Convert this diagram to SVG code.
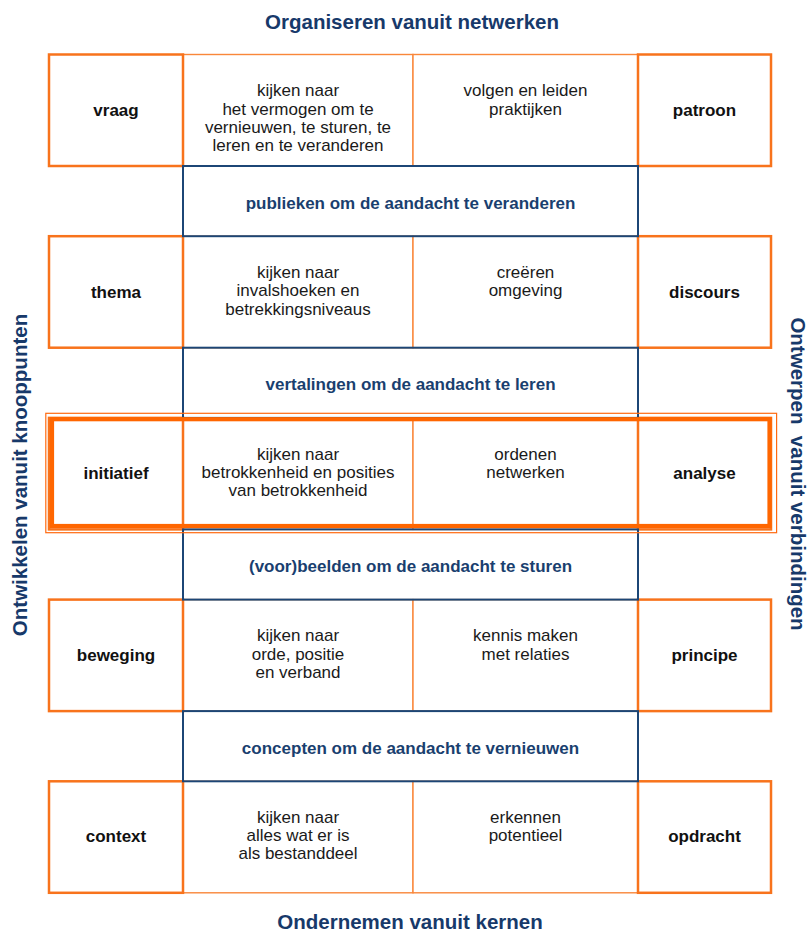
<svg xmlns="http://www.w3.org/2000/svg" width="810" height="933" viewBox="0 0 810 933">
  <style>
    .mid { fill: #ffffff; stroke: #F9873A; stroke-width: 1.4; }
    .side { fill: #ffffff; stroke: #F8731C; stroke-width: 2.5; }
    .band { fill: none; stroke: #1C4676; stroke-width: 2; }
    .lbl { font-family: "Liberation Sans", Arial, sans-serif; font-size: 17px; font-weight: bold; fill: #111111; text-anchor: middle; }
    .txt { font-family: "Liberation Sans", Arial, sans-serif; font-size: 17px; fill: #1a1a1a; text-anchor: middle; }
    .btxt { font-family: "Liberation Sans", Arial, sans-serif; font-size: 17px; font-weight: bold; fill: #1A3F6F; text-anchor: middle; }
    .head { font-family: "Liberation Sans", Arial, sans-serif; font-size: 20.5px; font-weight: bold; fill: #17396A; text-anchor: middle; }
  </style>

  <!-- headings -->
  <g id="heading-top"><text class="head" x="412" y="28.5">Organiseren vanuit netwerken</text></g>
  <g id="heading-bottom"><text class="head" x="410" y="929">Ondernemen vanuit kernen</text></g>
  <g id="heading-left"><text class="head" transform="translate(26.5,475) rotate(-90)" x="0" y="0">Ontwikkelen vanuit knooppunten</text></g>
  <g id="heading-right"><text class="head" transform="translate(790.5,474) rotate(90)" x="0" y="0" xml:space="preserve">Ontwerpen  vanuit verbindingen</text></g>

  <!-- row 1 -->
  <g id="row1-mid-left"><rect class="mid" x="183" y="54.5" width="230" height="111.5"/>
    <text class="txt" x="298" y="96.3">kijken naar</text>
    <text class="txt" x="298" y="114.6">het vermogen om te</text>
    <text class="txt" x="298" y="132.9">vernieuwen, te sturen, te</text>
    <text class="txt" x="298" y="151.2">leren en te veranderen</text></g>
  <g id="row1-mid-right"><rect class="mid" x="413" y="54.5" width="225" height="111.5"/>
    <text class="txt" x="525.5" y="96.3">volgen en leiden</text>
    <text class="txt" x="525.5" y="114.6">praktijken</text></g>
  <g id="vraag"><rect class="side" x="49" y="54.5" width="134" height="111.5"/><text class="lbl" x="116" y="116">vraag</text></g>
  <g id="patroon"><rect class="side" x="638" y="54.5" width="133" height="111.5"/><text class="lbl" x="704.5" y="116">patroon</text></g>

  <!-- row 2 -->
  <g id="row2-mid-left"><rect class="mid" x="183" y="236.2" width="230" height="111.5"/>
    <text class="txt" x="298" y="278">kijken naar</text>
    <text class="txt" x="298" y="296.3">invalshoeken en</text>
    <text class="txt" x="298" y="314.6">betrekkingsniveaus</text></g>
  <g id="row2-mid-right"><rect class="mid" x="413" y="236.2" width="225" height="111.5"/>
    <text class="txt" x="525.5" y="278">creëren</text>
    <text class="txt" x="525.5" y="296.3">omgeving</text></g>
  <g id="thema"><rect class="side" x="49" y="236.2" width="134" height="111.5"/><text class="lbl" x="116" y="297.7">thema</text></g>
  <g id="discours"><rect class="side" x="638" y="236.2" width="133" height="111.5"/><text class="lbl" x="704.5" y="297.7">discours</text></g>

  <!-- row 3 (highlighted) -->
  <g id="row3-mid-left"><rect class="mid" x="183" y="417.9" width="230" height="111.5"/>
    <text class="txt" x="298" y="459.7">kijken naar</text>
    <text class="txt" x="298" y="478">betrokkenheid en posities</text>
    <text class="txt" x="298" y="496.3">van betrokkenheid</text></g>
  <g id="row3-mid-right"><rect class="mid" x="413" y="417.9" width="225" height="111.5"/>
    <text class="txt" x="525.5" y="459.7">ordenen</text>
    <text class="txt" x="525.5" y="478">netwerken</text></g>
  <g id="initiatief"><rect class="side" x="49" y="417.9" width="134" height="111.5"/><text class="lbl" x="116" y="479.2">initiatief</text></g>
  <g id="analyse"><rect class="side" x="638" y="417.9" width="133" height="111.5"/><text class="lbl" x="704.5" y="479.2">analyse</text></g>

  <!-- row 4 -->
  <g id="row4-mid-left"><rect class="mid" x="183" y="599.6" width="230" height="111.5"/>
    <text class="txt" x="298" y="641.4">kijken naar</text>
    <text class="txt" x="298" y="659.7">orde, positie</text>
    <text class="txt" x="298" y="678">en verband</text></g>
  <g id="row4-mid-right"><rect class="mid" x="413" y="599.6" width="225" height="111.5"/>
    <text class="txt" x="525.5" y="641.4">kennis maken</text>
    <text class="txt" x="525.5" y="659.7">met relaties</text></g>
  <g id="beweging"><rect class="side" x="49" y="599.6" width="134" height="111.5"/><text class="lbl" x="116" y="660.9">beweging</text></g>
  <g id="principe"><rect class="side" x="638" y="599.6" width="133" height="111.5"/><text class="lbl" x="704.5" y="660.9">principe</text></g>

  <!-- row 5 -->
  <g id="row5-mid-left"><rect class="mid" x="183" y="781.3" width="230" height="111.5"/>
    <text class="txt" x="298" y="822.8">kijken naar</text>
    <text class="txt" x="298" y="841.1">alles wat er is</text>
    <text class="txt" x="298" y="859.4">als bestanddeel</text></g>
  <g id="row5-mid-right"><rect class="mid" x="413" y="781.3" width="225" height="111.5"/>
    <text class="txt" x="525.5" y="822.8">erkennen</text>
    <text class="txt" x="525.5" y="841.1">potentieel</text></g>
  <g id="context"><rect class="side" x="49" y="781.3" width="134" height="111.5"/><text class="lbl" x="116" y="842.1">context</text></g>
  <g id="opdracht"><rect class="side" x="638" y="781.3" width="133" height="111.5"/><text class="lbl" x="704.5" y="842.1">opdracht</text></g>

  <!-- bands (drawn over the row edges) -->
  <g id="band1"><rect class="band" x="183" y="166" width="455" height="70.2"/><text class="btxt" x="410.5" y="208.6">publieken om de aandacht te veranderen</text></g>
  <g id="band2"><rect class="band" x="183" y="347.7" width="455" height="70.2"/><text class="btxt" x="410.5" y="390.3">vertalingen om de aandacht te leren</text></g>
  <g id="band3"><rect class="band" x="183" y="529.4" width="455" height="70.2"/><text class="btxt" x="410.5" y="572">(voor)beelden om de aandacht te sturen</text></g>
  <g id="band4"><rect class="band" x="183" y="711.1" width="455" height="70.2"/><text class="btxt" x="410.5" y="753.7">concepten om de aandacht te vernieuwen</text></g>

  <g id="highlight">
    <rect x="45.8" y="413.3" width="730.8" height="119.4" fill="none" stroke="#FF6A10" stroke-width="1.2"/>
    <rect x="52" y="419.2" width="717.5" height="106.8" fill="none" stroke="#FF6600" stroke-width="4.2"/>
  </g>

  <g id="connectors"></g>
</svg>
